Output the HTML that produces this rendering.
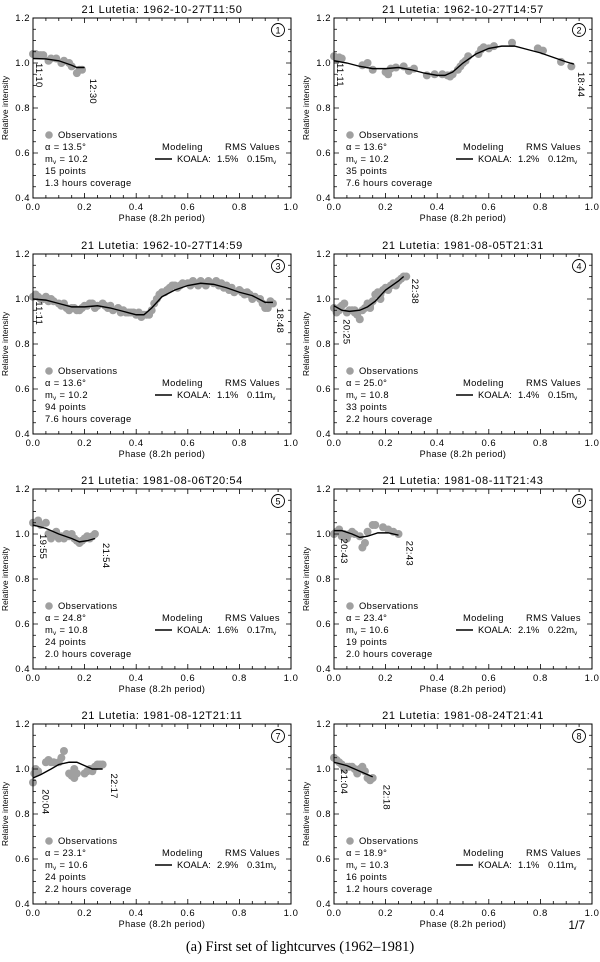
<!DOCTYPE html>
<html><head><meta charset="utf-8"><style>
html,body{margin:0;padding:0;background:#fff;}
svg{display:block;font-family:"Liberation Sans",sans-serif;}
</style></head><body>
<svg id="fig" width="600" height="962" viewBox="0 0 600 962" xmlns="http://www.w3.org/2000/svg"></svg>
<script>
const titles=["21 Lutetia: 1962-10-27T11:50","21 Lutetia: 1962-10-27T14:57","21 Lutetia: 1962-10-27T14:59","21 Lutetia: 1981-08-05T21:31","21 Lutetia: 1981-08-06T20:54","21 Lutetia: 1981-08-11T21:43","21 Lutetia: 1981-08-12T21:11","21 Lutetia: 1981-08-24T21:41"];
const alphas=["13.5","13.6","13.6","25.0","24.8","23.4","23.1","18.9"];
const mags=["10.2","10.2","10.2","10.8","10.8","10.6","10.6","10.3"];
const npts=["15","35","94","33","24","19","24","16"];
const hours=["1.3","7.6","7.6","2.2","2.0","2.0","2.2","1.2"];
const rmsPct=["1.5","1.2","1.1","1.4","1.6","2.1","2.9","1.1"];
const rmsMag=["0.15","0.12","0.11","0.15","0.17","0.22","0.31","0.11"];
const startTimes=[["11:10",0.0,1.0],["11:11",0.0,1.0],["11:11",0.0,0.99],["20:25",0.025,0.91],["19:55",0.015,1.0],["20:43",0.015,0.98],["20:04",0.025,0.91],["21:04",0.015,1.0]];
const endTimes=[["12:30",0.21,0.93],["18:44",0.935,0.96],["18:48",0.935,0.96],["22:38",0.29,1.09],["21:54",0.26,0.96],["22:43",0.27,0.97],["22:17",0.29,0.98],["22:18",0.18,0.93]];
const xTicks=[0,0.2,0.4,0.6,0.8,1.0];
const yTicks=[0.4,0.6,0.8,1.0,1.2];
const obs1=[[0,1.04],[0.01,1.04],[0.02,1.035],[0.03,1.035],[0.04,1.035],[0.06,1.01],[0.07,1.02],[0.09,1.02],[0.11,1.0],[0.12,1.01],[0.14,1.0],[0.15,0.985],[0.17,0.955],[0.18,0.97],[0.19,0.97]];
const mod1=[[0,1.02],[0.05,1.018],[0.1,1.01],[0.15,0.99],[0.17,0.98],[0.2,0.98]];
const obs2=[[0,1.03],[0.01,1.02],[0.02,1.025],[0.03,1.02],[0.11,0.99],[0.13,1.0],[0.15,0.97],[0.2,0.96],[0.21,0.95],[0.22,0.975],[0.24,0.98],[0.27,0.985],[0.29,0.965],[0.31,0.975],[0.36,0.945],[0.39,0.95],[0.42,0.95],[0.44,0.945],[0.45,0.94],[0.46,0.95],[0.48,0.97],[0.49,0.985],[0.5,1.0],[0.51,1.01],[0.52,1.03],[0.56,1.04],[0.57,1.06],[0.58,1.07],[0.6,1.065],[0.62,1.075],[0.69,1.09],[0.79,1.065],[0.81,1.055],[0.88,1.005],[0.92,0.985]];
const mod2=[[0,1.01],[0.05,1.0],[0.1,0.985],[0.15,0.975],[0.2,0.975],[0.25,0.98],[0.3,0.97],[0.35,0.955],[0.4,0.945],[0.43,0.945],[0.46,0.96],[0.5,1.0],[0.55,1.04],[0.6,1.065],[0.65,1.075],[0.7,1.075],[0.75,1.06],[0.8,1.045],[0.85,1.025],[0.9,1.005],[0.93,0.995]];
const obs3=[[0,1.01],[0.01,1.02],[0.02,1.01],[0.03,1.0],[0.04,1.0],[0.05,1.01],[0.06,0.99],[0.07,1.0],[0.08,0.99],[0.1,0.98],[0.11,0.97],[0.12,0.98],[0.13,0.96],[0.14,0.95],[0.15,0.96],[0.16,0.96],[0.17,0.95],[0.18,0.95],[0.19,0.96],[0.2,0.97],[0.21,0.97],[0.22,0.98],[0.23,0.98],[0.24,0.96],[0.25,0.97],[0.27,0.98],[0.28,0.97],[0.29,0.96],[0.3,0.97],[0.31,0.95],[0.33,0.96],[0.34,0.94],[0.35,0.95],[0.36,0.94],[0.37,0.94],[0.38,0.94],[0.39,0.94],[0.4,0.93],[0.41,0.94],[0.42,0.92],[0.43,0.93],[0.44,0.93],[0.45,0.93],[0.46,0.95],[0.47,0.98],[0.48,1.0],[0.49,1.02],[0.5,1.03],[0.51,1.03],[0.52,1.04],[0.53,1.05],[0.54,1.06],[0.55,1.06],[0.56,1.05],[0.57,1.06],[0.58,1.07],[0.6,1.07],[0.61,1.06],[0.62,1.08],[0.63,1.07],[0.64,1.06],[0.65,1.08],[0.66,1.07],[0.67,1.06],[0.68,1.08],[0.7,1.07],[0.71,1.08],[0.72,1.06],[0.73,1.07],[0.74,1.05],[0.75,1.06],[0.76,1.04],[0.77,1.05],[0.78,1.03],[0.8,1.04],[0.81,1.03],[0.82,1.02],[0.83,1.03],[0.84,1.02],[0.85,1.0],[0.86,1.01],[0.88,1.0],[0.89,0.98],[0.9,0.96],[0.91,0.96],[0.92,0.99],[0.93,0.98]];
const mod3=[[0,1.0],[0.05,0.995],[0.1,0.98],[0.15,0.965],[0.2,0.965],[0.25,0.97],[0.3,0.96],[0.35,0.945],[0.4,0.93],[0.43,0.93],[0.46,0.96],[0.5,1.01],[0.55,1.04],[0.6,1.06],[0.65,1.07],[0.7,1.065],[0.75,1.05],[0.8,1.03],[0.85,1.015],[0.9,0.985],[0.93,0.985]];
const obs4=[[0,0.96],[0.01,0.94],[0.02,0.95],[0.03,0.97],[0.04,0.98],[0.05,0.94],[0.06,0.95],[0.07,0.95],[0.08,0.94],[0.09,0.93],[0.1,0.91],[0.11,0.95],[0.12,0.96],[0.13,0.98],[0.14,0.97],[0.15,0.99],[0.16,1.02],[0.17,1.03],[0.18,1.02],[0.19,1.04],[0.2,1.05],[0.21,1.04],[0.22,1.06],[0.23,1.07],[0.24,1.06],[0.25,1.08],[0.26,1.09],[0.27,1.1],[0.28,1.1],[0.18,1.0],[0.14,0.96],[0.08,0.95],[0.02,0.96]];
const mod4=[[0,0.97],[0.03,0.95],[0.06,0.945],[0.1,0.95],[0.13,0.965],[0.16,0.99],[0.2,1.04],[0.25,1.08],[0.27,1.1]];
const obs5=[[0,1.05],[0.01,1.05],[0.02,1.06],[0.03,1.04],[0.05,1.05],[0.06,1.0],[0.07,0.98],[0.08,1.0],[0.09,1.01],[0.1,0.98],[0.11,0.99],[0.12,0.98],[0.13,1.0],[0.14,0.99],[0.15,1.0],[0.16,0.98],[0.17,0.97],[0.18,0.96],[0.19,0.97],[0.2,0.98],[0.21,0.99],[0.22,0.98],[0.23,0.99],[0.24,1.0]];
const mod5=[[0,1.04],[0.05,1.025],[0.1,1.0],[0.15,0.98],[0.18,0.965],[0.21,0.97],[0.24,0.98]];
const obs6=[[0,1.0],[0.01,1.01],[0.02,1.02],[0.03,0.99],[0.04,1.0],[0.05,0.98],[0.06,1.0],[0.07,1.01],[0.08,1.0],[0.1,0.99],[0.11,0.94],[0.12,0.96],[0.13,1.01],[0.15,1.04],[0.16,1.04],[0.19,1.03],[0.21,1.02],[0.23,1.01],[0.25,1.0]];
const mod6=[[0,1.015],[0.03,1.015],[0.07,1.0],[0.1,0.985],[0.13,0.99],[0.17,1.005],[0.21,1.005],[0.25,0.995]];
const obs7=[[0,0.94],[0.005,0.98],[0.01,1.0],[0.02,0.99],[0.05,1.03],[0.06,1.04],[0.07,1.03],[0.08,1.03],[0.1,1.03],[0.11,1.05],[0.12,1.08],[0.14,0.98],[0.15,0.97],[0.16,0.96],[0.17,0.98],[0.16,1.0],[0.2,0.98],[0.21,0.99],[0.22,1.0],[0.23,0.99],[0.25,1.02],[0.26,1.02],[0.27,1.02],[0.24,1.01]];
const mod7=[[0,0.96],[0.03,0.975],[0.07,1.0],[0.1,1.02],[0.14,1.03],[0.17,1.03],[0.2,1.015],[0.23,1.0],[0.27,1.0]];
const obs8=[[0,1.05],[0.01,1.04],[0.02,1.03],[0.03,1.02],[0.04,1.0],[0.05,1.01],[0.06,1.01],[0.07,1.01],[0.09,0.98],[0.1,1.0],[0.11,1.01],[0.13,0.96],[0.14,0.95],[0.15,0.96],[0.12,0.99],[0.08,1.0]];
const mod8=[[0,1.03],[0.05,1.015],[0.1,0.99],[0.15,0.965]];
const allObs=[obs1,obs2,obs3,obs4,obs5,obs6,obs7,obs8];
const allMod=[mod1,mod2,mod3,mod4,mod5,mod6,mod7,mod8];

const NS="http://www.w3.org/2000/svg";
const svg=document.getElementById('fig');
function mk(tag,attrs,parent,txt){const e=document.createElementNS(NS,tag);for(const k in attrs)e.setAttribute(k,attrs[k]);if(txt!==undefined)e.textContent=txt;parent.appendChild(e);return e;}
const rowTops=[18,254,489,724];
const colLefts=[33,334];
const PW=258,PH=180;
for(let i=0;i<8;i++){
  const r=Math.floor(i/2),c=i%2;
  const L=colLefts[c],T=rowTops[r],R=L+PW,B=T+PH;
  const sx=v=>L+v*PW, sy=v=>B-(v-0.4)/0.8*PH;
  const g=mk('g',{},svg);
  
  
  const t=mk('text',{x:(L+R)/2,y:T-5,'text-anchor':'middle','font-size':'11','letter-spacing':'0.6'},g,titles[i]);
  
  
  const dg=mk('g',{fill:'#a0a0a0'},g);
  
  
  allObs[i].forEach(p=>{const d=mk('circle',{cx:sx(p[0]),cy:sy(p[1]),r:4},dg);
    
    });
  const ml=mk('polyline',{points:allMod[i].map(p=>sx(p[0])+','+sy(p[1])).join(' '),fill:'none',stroke:'#000','stroke-width':'1.4'},g);
  
  
  const fr=mk('rect',{x:L,y:T,width:PW,height:PH,fill:'none',stroke:'#000','stroke-width':'1'},g);
  
  
  let tp='';
  for(let k=0;k<=20;k++){const v=k*0.05,x=sx(v),len=(k%4===0)?5:3;tp+=`M${x},${B}v${-len}M${x},${T}v${len}`;}
  for(let k=0;k<=16;k++){const v=0.4+k*0.05,y=sy(v),len=(k%4===0)?5:3;tp+=`M${L},${y}h${len}M${R},${y}h${-len}`;}
  mk('path',{d:tp,stroke:'#000','stroke-width':'0.8',fill:'none'},g);
  xTicks.forEach(v=>{const e=mk('text',{x:sx(v),y:B+12,'text-anchor':'middle','font-size':'9.5','letter-spacing':'0.5'},g,v.toFixed(1));
    
    });
  yTicks.forEach(v=>{const e=mk('text',{x:L-3,y:sy(v)+3,'text-anchor':'end','font-size':'9.5','letter-spacing':'0.5'},g,v.toFixed(1));
    
    });
  const xt=mk('text',{x:(L+R)/2,y:B+23,'text-anchor':'middle','font-size':'9','letter-spacing':'0.4'},g,'Phase (8.2h period)');
  
  
  const yx=L-25,yy=(T+B)/2;
  const yt=mk('text',{x:yx,y:yy,'text-anchor':'middle','font-size':'8.5',transform:`rotate(-90 ${yx} ${yy})`},g,'Relative intensity');
  
  
  const cc=mk('circle',{cx:R-13,cy:T+12,r:6.5,fill:'#fff',stroke:'#000','stroke-width':'0.9'},g);
  
  
  mk('text',{x:R-13,y:T+15.5,'text-anchor':'middle','font-size':'9'},g,String(i+1));
  [startTimes[i],endTimes[i]].forEach((tl,j)=>{const x=sx(tl[1])+3,y=sy(tl[2]);
    const e=mk('text',{x:x,y:y,'font-size':'9.5','letter-spacing':'0.3',transform:`rotate(90 ${x} ${y})`},g,tl[0]);
    
    });
  const ly=B-60;
  const lg=mk('g',{'font-size':'9.4','letter-spacing':'0.35'},g);
  
  
  mk('circle',{cx:L+16,cy:ly-3,r:3.8,fill:'#a0a0a0'},lg);
  mk('text',{x:L+25,y:ly},lg,'Observations');
  mk('text',{x:L+12,y:ly+12},lg,'\u03b1 =  '+alphas[i]+'\u00b0');
  const mt=mk('text',{x:L+12,y:ly+24},lg);
  mk('tspan',{},mt,'m');mk('tspan',{'font-size':'6',dy:'2'},mt,'v');mk('tspan',{dy:'-2'},mt,' = '+mags[i]);
  mk('text',{x:L+12,y:ly+36},lg,npts[i]+' points');
  mk('text',{x:L+12,y:ly+48},lg,hours[i]+' hours coverage');
  mk('text',{x:L+129,y:ly+12},lg,'Modeling');
  mk('text',{x:L+192,y:ly+12},lg,'RMS Values');
  mk('line',{x1:L+122,x2:L+139,y1:ly+21,y2:ly+21,stroke:'#000','stroke-width':'1.4'},lg);
  mk('text',{x:L+144,y:ly+24,'letter-spacing':'0'},lg,'KOALA:');
  mk('text',{x:L+184,y:ly+24,'letter-spacing':'0'},lg,rmsPct[i]+'%');
  const rt=mk('text',{x:L+214,y:ly+24,'letter-spacing':'0'},lg);
  mk('tspan',{},rt,rmsMag[i]+'m');mk('tspan',{'font-size':'6',dy:'2'},rt,'v');
}
const pg=mk('text',{x:585,y:929,'text-anchor':'end','font-size':'12'},svg,'1/7');


const cap=mk('text',{x:300,y:951,'text-anchor':'middle','font-size':'14.5','font-family':'"Liberation Serif",serif'},svg,'(a)  First set of lightcurves (1962\u20131981)');


</script>
</body></html>
